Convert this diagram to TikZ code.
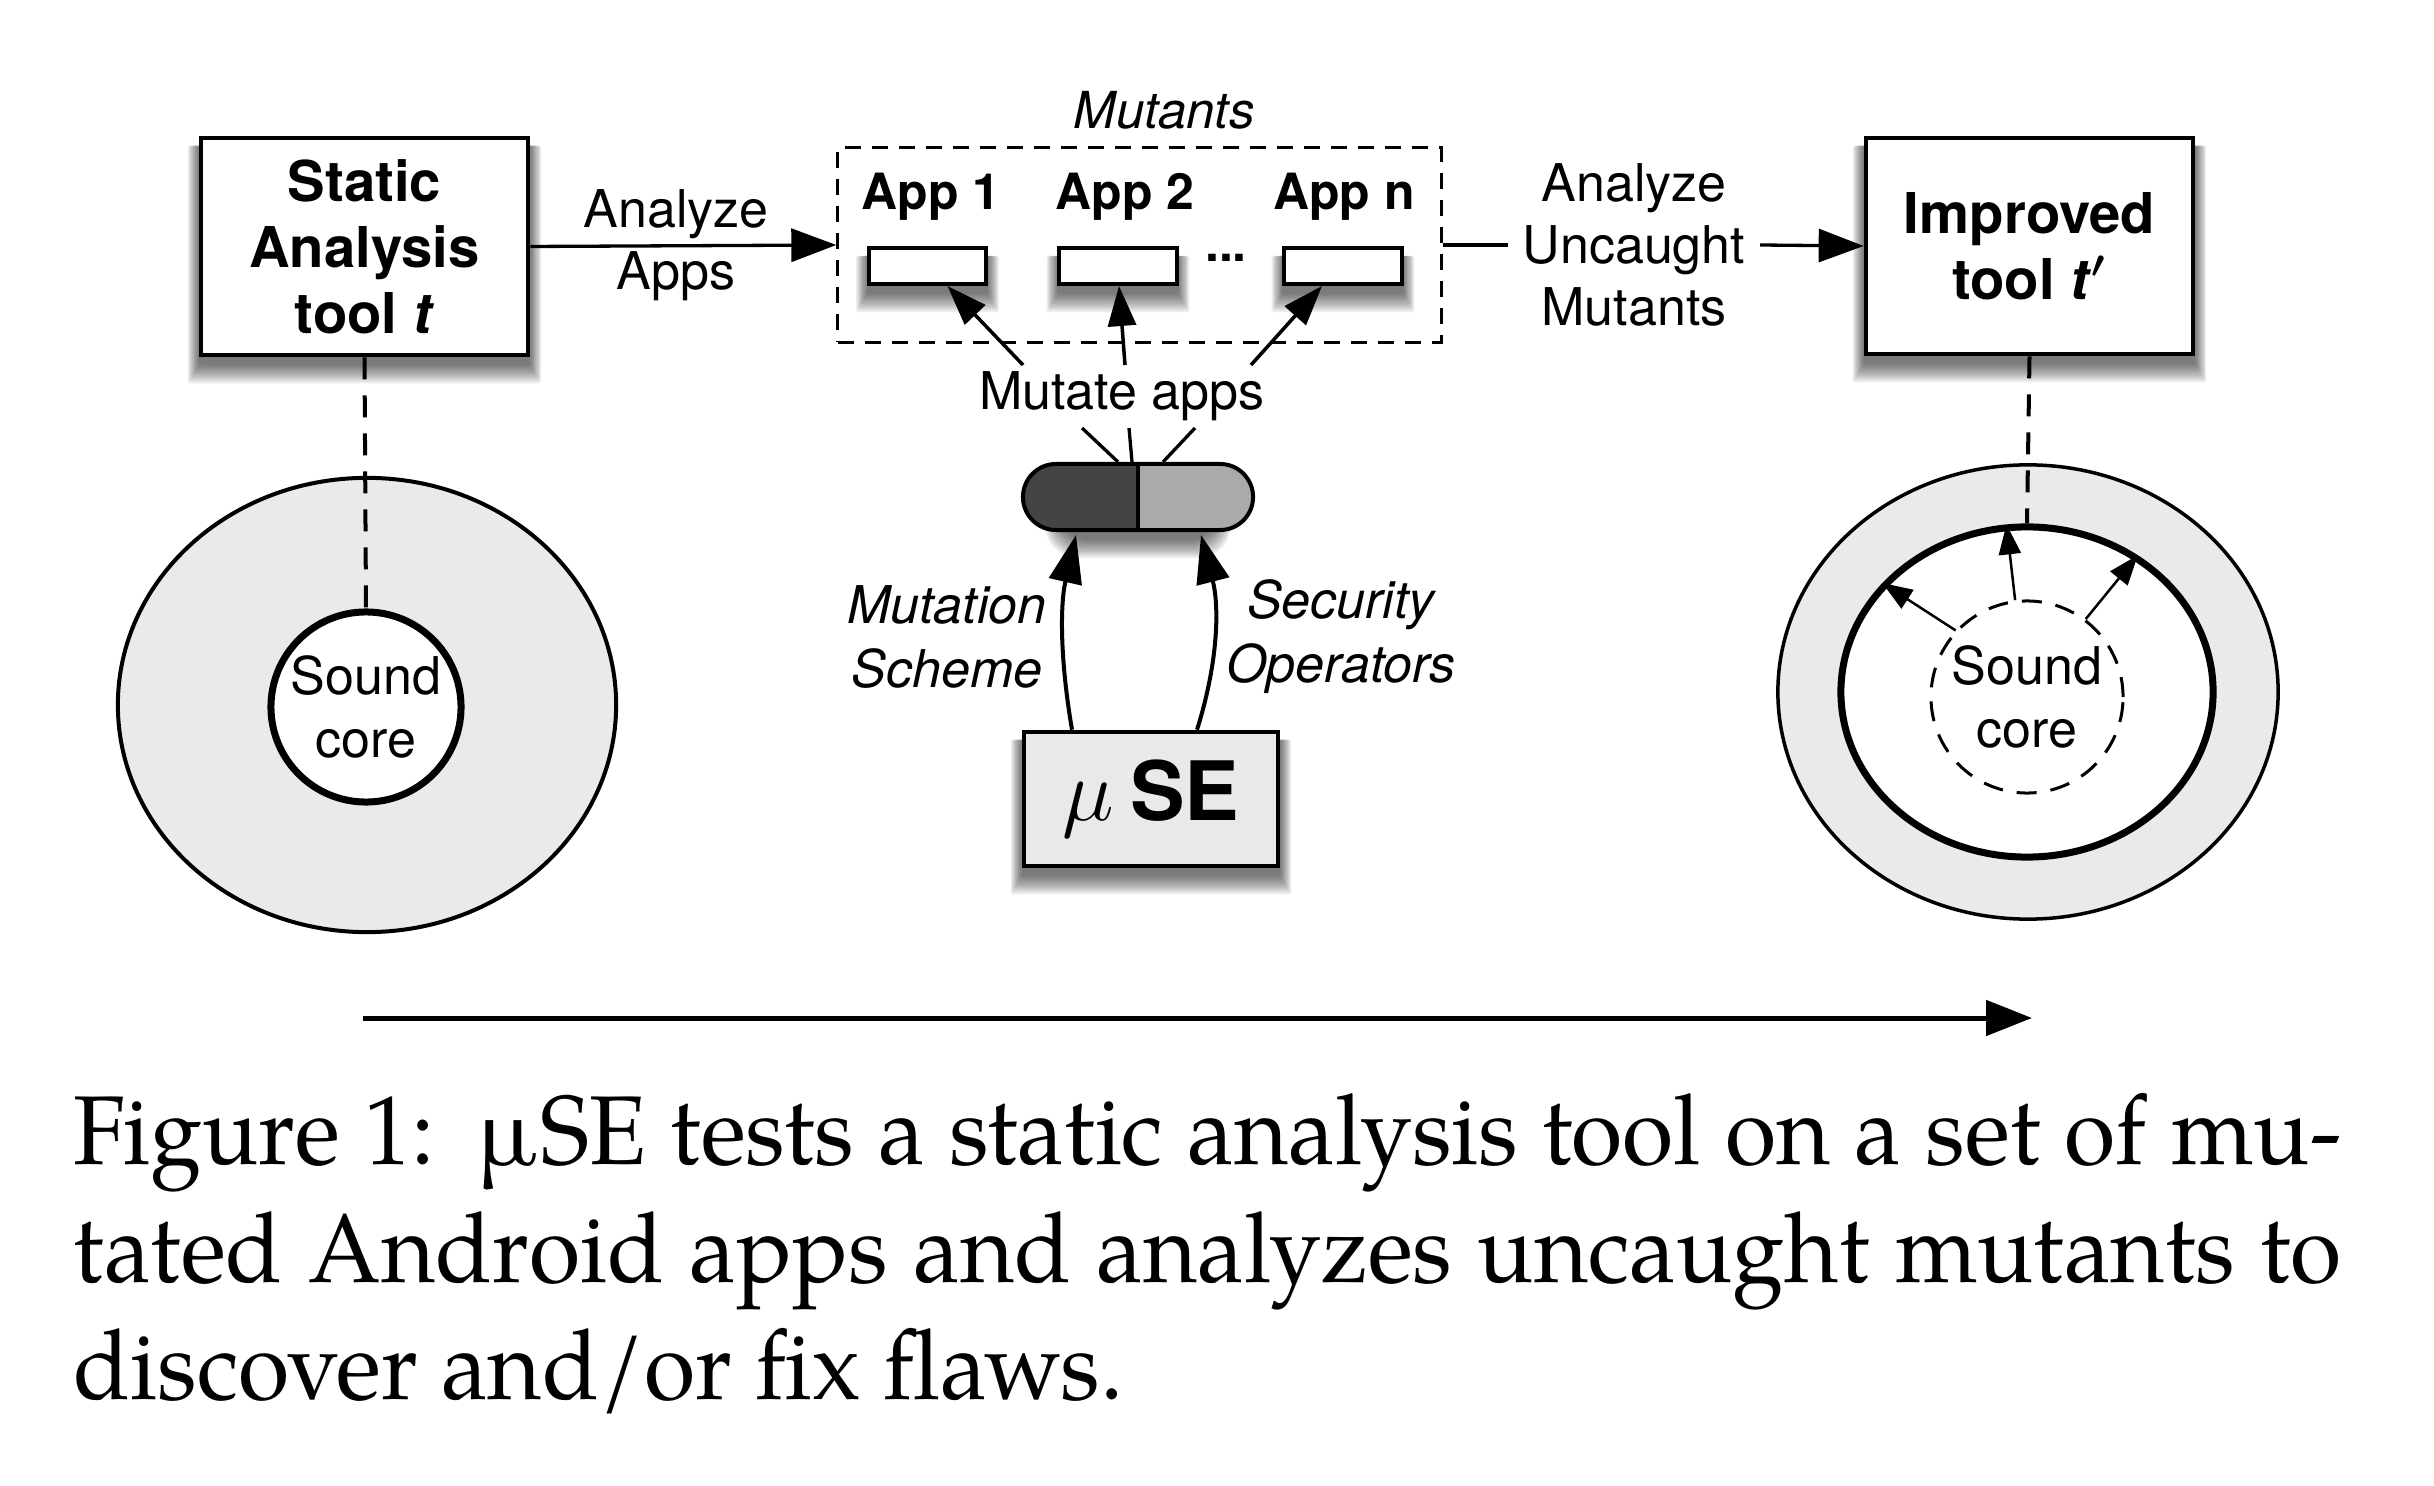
\documentclass[tikz,border=0pt]{standalone}
\usepackage{fontspec}
\setsansfont{TeX Gyre Heros}
\newfontfamily\capfont{texgyrepagella-regular.otf}
\usetikzlibrary{arrows.meta,calc,shapes.misc,shapes.geometric}
\pgfdeclarelayer{bg}
\pgfsetlayers{bg,main}
\definecolor{ringgray}{RGB}{234,234,234}
\definecolor{pilldark}{RGB}{68,68,68}
\definecolor{pilllight}{RGB}{170,170,170}
\definecolor{boxgray}{RGB}{233,233,233}
\newcommand\softshadow[2][0.02cm]{%
  \begin{pgfonlayer}{bg}
    \foreach \e in {0,2,...,18}{%
      \fill[black,opacity=0.07,rounded corners=#1]
        ($(#2.south west)+(-\e*0.6,8+\e)$) rectangle ($(#2.north east)+(\e*0.6,10)$);
    }
  \end{pgfonlayer}}
\begin{document}
\begin{tikzpicture}[x=0.01cm,y=-0.01cm,font=\sffamily,
  tbox/.style={draw,fill=white,line width=0.045cm,inner sep=0pt,align=center,
    font=\sffamily\bfseries\fontsize{16}{18.8}\selectfont},
  lbl/.style={inner sep=2pt,align=center,font=\sffamily\fontsize{14.8}{17.6}\selectfont},
  ilbl/.style={inner sep=2pt,align=center,font=\sffamily\itshape\fontsize{14.8}{18.2}\selectfont},
  applbl/.style={inner sep=0pt,font=\sffamily\bfseries\fontsize{14.2}{16}\selectfont},
  apprect/.style={draw,fill=white,line width=0.04cm,minimum width=1.17cm,minimum height=0.36cm,inner sep=0pt},
  corelbl/.style={align=center,inner sep=0pt,font=\sffamily\fontsize{14.8}{17.9}\selectfont},
  dashline/.style={line width=0.04cm,dash pattern=on 0.22cm off 0.16cm},
  arrA/.style={line width=0.033cm,-{Triangle[length=0.45cm,width=0.33cm]}},
  arrM/.style={line width=0.035cm,-{Triangle[length=0.40cm,width=0.28cm]}},
  arrC/.style={line width=0.04cm,-{Triangle[length=0.48cm,width=0.33cm]}},
  arrS/.style={line width=0.025cm,-{Triangle[length=0.30cm,width=0.22cm]}},
  plain/.style={line width=0.033cm}]
\useasboundingbox (0,0) rectangle (2434,1486);

% rings (left)
\node[ellipse,draw,fill=ringgray,line width=0.04cm,minimum width=4.98cm,minimum height=4.54cm,inner sep=0pt] (out1) at (367,705) {};
\node[circle,draw,fill=white,line width=0.07cm,minimum size=1.90cm,corelbl] (core1) at (366,707) {Sound\\core};

% rings (right)
\node[ellipse,draw,fill=ringgray,line width=0.035cm,minimum width=5.00cm,minimum height=4.54cm,inner sep=0pt] (out2) at (2028,692) {};
\node[ellipse,draw,fill=white,line width=0.07cm,minimum width=3.72cm,minimum height=3.30cm,inner sep=0pt] (inner2) at (2027,692) {};
\node[circle,draw,line width=0.03cm,dash pattern=on 0.2cm off 0.14cm,minimum size=1.92cm,corelbl] (core2) at (2027,697) {Sound\\core};

% boxes
\node[tbox,minimum width=3.27cm,minimum height=2.17cm] (sat) at (364.5,246.5) {Static\\Analysis\\tool \textit{t}};
\softshadow{sat}
\node[tbox,minimum width=3.27cm,minimum height=2.16cm] (imp) at (2029.5,246) {Improved\\tool \textit{t}{\boldmath$'$}};
\softshadow{imp}

% mutants box
\node[draw,line width=0.03cm,dash pattern=on 0.16cm off 0.11cm,minimum width=6.03cm,minimum height=1.94cm,inner sep=0pt] (mbox) at (1139.5,245) {};
\node[ilbl,font=\sffamily\itshape\fontsize{14.5}{17}\selectfont] (mlab) at (1164,110) {Mutants};
\node[applbl] (a1l) at (931,197) {App 1};
\node[applbl] (a2l) at (1125,197) {App 2};
\node[applbl] (anl) at (1344,197) {App n};
\node[apprect] (app1) at (927.5,266) {};
\softshadow{app1}
\node[apprect] (app2) at (1118,266) {};
\softshadow{app2}
\node[apprect] (appn) at (1343,266) {};
\softshadow{appn}
\node[applbl] (dots) at (1226,258) {...};

% labels on arrows
\node[lbl] (aa) at (676,245) {Analyze\\Apps};
\draw[arrA] (sat.east) -- (mbox.west);
\node[lbl,inner sep=4pt] (au) at (1634,245) {Analyze\\Uncaught\\Mutants};
\draw[plain] (mbox.east) -- (au.west);
\draw[arrA] (au.east) -- (imp.west);

% pill
\node[rounded rectangle,draw,line width=0.04cm,minimum width=2.30cm,minimum height=0.66cm,inner sep=0pt,
  path picture={\fill[pilldark] (path picture bounding box.north west) rectangle (path picture bounding box.south);
                \fill[pilllight] (path picture bounding box.north) rectangle (path picture bounding box.south east);}] (pill) at (1138,497) {};
\begin{pgfonlayer}{bg}
  \foreach \e in {0,2,...,18}{%
    \fill[black,opacity=0.07,rounded corners=0.33cm]
      ($(pill.south west)+(-\e*0.6,8+\e)$) rectangle ($(pill.north east)+(\e*0.6,10)$);
  }
\end{pgfonlayer}
\draw[line width=0.04cm] (pill.north) -- (pill.south);

% Mutate apps
\node[lbl] (mut) at (1122,396) {Mutate apps};
\draw[arrM] ($(mut.center)+(-99,-31)$) -- ([xshift=0.2cm]app1.south);
\draw[arrM] ($(mut.center)+(3,-31)$) -- ([xshift=0.01cm]app2.south);
\draw[arrM] ($(mut.center)+(129,-31)$) -- ([xshift=-0.21cm]appn.south);
\draw[plain] ($(mut.center)+(-40,32)$) -- ($(pill.north)+(-20,0)$);
\draw[plain] ($(mut.center)+(7,32)$) -- ($(pill.north)+(-6,0)$);
\draw[plain] ($(mut.center)+(73,32)$) -- ($(pill.north)+(25,0)$);

% muSE
\node[draw,fill=boxgray,line width=0.045cm,minimum width=2.54cm,minimum height=1.34cm,inner sep=0pt] (muse) at (1151,799)
  {\raisebox{-0.07cm}{{\fontsize{31}{34}\selectfont$\mu$}\hspace{0.16cm}{\bfseries\fontsize{23.3}{28}\selectfont SE}}\hspace{0.6cm}};
\softshadow{muse}
\draw[arrC] ($(muse.north)+(-79,0)$) .. controls +(-12,-70) and +(-16,70) .. ($(pill.south)+(-62,3)$);
\draw[arrC] ($(muse.north)+(46,0)$) .. controls +(22,-70) and +(18,70) .. ($(pill.south)+(63,3)$);
\node[ilbl] (ms) at (947,637) {Mutation\\Scheme};
\node[ilbl] (so) at (1341,637) {Security\\Operators};

% dashed links
\draw[dashline] (sat.south) -- (core1.north);
\draw[dashline] (imp.south) -- (inner2.north);

% expansion arrows
\draw[arrS] (core2.137) -- (inner2.143);
\draw[arrS] (core2.97) -- (inner2.97);
\draw[arrS] (core2.53) -- (inner2.51);

% bottom arrow
\coordinate (ts) at (363,1018);
\coordinate (te) at (2032,1018);
\draw[line width=0.05cm,-{Triangle[length=0.46cm,width=0.35cm]}] (ts) -- (te);

% caption
\node[anchor=north west,inner sep=0pt] (cap) at (73,1093)
  {\scalebox{0.955}[1]{\parbox[t]{23.73cm}{\capfont\fontsize{27.8}{33.4}\selectfont
   \hyphenpenalty=10000\tolerance=9999\emergencystretch=2cm
   Figure 1:\hspace{0.45em}µSE tests a static analysis tool on a set of mu-\linebreak
   tated Android apps and analyzes uncaught mutants to\linebreak
   discover and/or fix flaws.}}};
\end{tikzpicture}
\end{document}
